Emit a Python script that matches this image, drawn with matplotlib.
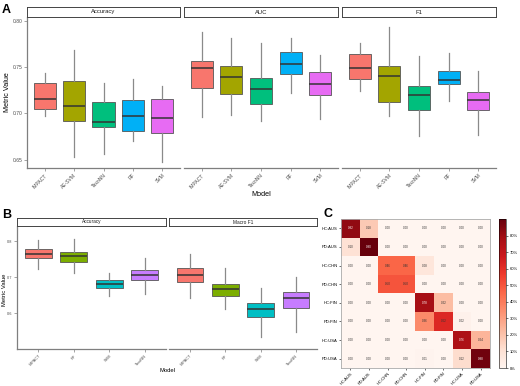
import numpy as np
import matplotlib
matplotlib.use('Agg')
import matplotlib.pyplot as plt

plt.rcParams['font.family'] = ['Liberation Sans', 'DejaVu Sans']

# ---- panel A data (box stats: whislo, q1, med, q3, whishi)
models_a = ["IMPACT", "AE-SVM", "TaxoNN", "RF", "SVM"]
colors_a = ["#F8766D", "#A3A500", "#00BF7D", "#00B0F6", "#E76BF3"]
acc_a = [[0.697, 0.705, 0.716, 0.7325, 0.744],
         [0.653, 0.692, 0.708, 0.735, 0.768],
         [0.6565, 0.6855, 0.691, 0.712, 0.733],
         [0.670, 0.6805, 0.697, 0.7146, 0.737],
         [0.6475, 0.6787, 0.6952, 0.7153, 0.7297]]
auc_a = [[0.696, 0.7272, 0.7494, 0.757, 0.788],
         [0.6985, 0.721, 0.739, 0.7516, 0.781],
         [0.692, 0.7103, 0.7264, 0.7386, 0.7756],
         [0.7218, 0.7422, 0.7534, 0.7666, 0.7817],
         [0.6938, 0.720, 0.7315, 0.7444, 0.763]]
f1_a = [[0.7243, 0.7372, 0.7487, 0.7638, 0.7763],
        [0.6967, 0.7121, 0.7408, 0.7512, 0.7935],
        [0.6751, 0.7035, 0.720, 0.729, 0.762],
        [0.7128, 0.7315, 0.7361, 0.7455, 0.7648],
        [0.6766, 0.7035, 0.7146, 0.7232, 0.7462]]

# ---- panel B data
models_b = ["IMPACT", "RF", "SVM", "TaxoNN"]
colors_b = ["#F8766D", "#7CAE00", "#00BFC4", "#C77CFF"]
acc_b = [[0.723, 0.752, 0.765, 0.777, 0.803],
         [0.712, 0.743, 0.758, 0.770, 0.806],
         [0.647, 0.671, 0.682, 0.692, 0.710],
         [0.654, 0.692, 0.706, 0.719, 0.754]]
mf1_b = [[0.641, 0.686, 0.706, 0.725, 0.763],
         [0.612, 0.648, 0.667, 0.680, 0.725],
         [0.534, 0.589, 0.612, 0.629, 0.669],
         [0.548, 0.615, 0.642, 0.659, 0.699]]

# ---- panel C data
classes = ["HC:AUS", "PD:AUS", "HC:CHN", "PD:CHN", "HC:FIN", "PD:FIN", "HC:USA", "PD:USA"]
conf = np.array([
    [0.82, 0.18, 0.00, 0.00, 0.00, 0.00, 0.00, 0.00],
    [0.10, 0.90, 0.00, 0.00, 0.00, 0.00, 0.00, 0.00],
    [0.00, 0.00, 0.46, 0.46, 0.08, 0.00, 0.00, 0.00],
    [0.00, 0.00, 0.50, 0.50, 0.00, 0.00, 0.00, 0.00],
    [0.00, 0.00, 0.00, 0.00, 0.78, 0.22, 0.00, 0.00],
    [0.00, 0.00, 0.00, 0.00, 0.36, 0.62, 0.02, 0.00],
    [0.00, 0.00, 0.00, 0.00, 0.00, 0.00, 0.76, 0.24],
    [0.00, 0.00, 0.00, 0.00, 0.01, 0.00, 0.12, 0.88]])

W, H = 520, 386
fig = plt.figure(figsize=(W / 100, H / 100), dpi=100)


def px_axes(x0, y0, x1, y1):
    return fig.add_axes([x0 / W, 1 - y1 / H, (x1 - x0) / W, (y1 - y0) / H])


def facet(x0, y0, x1, y1, strip_h, title, stats, models, colors, ylim, yticks,
          show_y, tick_fs, strip_fs):
    ax = px_axes(x0, y0, x1, y1)
    st = [dict(whislo=s[0], q1=s[1], med=s[2], q3=s[3], whishi=s[4], fliers=[])
          for s in stats]
    bp = ax.bxp(st, positions=np.arange(1, len(models) + 1), widths=0.75,
                patch_artist=True, showcaps=False,
                boxprops=dict(edgecolor='#555555', linewidth=0.6),
                whiskerprops=dict(color='#8a8a8a', linewidth=0.9),
                medianprops=dict(color='#333333', linewidth=1.1))
    for b, c in zip(bp['boxes'], colors):
        b.set_facecolor(c)
    ax.set_xlim(0.4, len(models) + 0.6)
    ax.set_ylim(*ylim)
    ax.set_xticks(np.arange(1, len(models) + 1))
    ax.set_xticklabels(models, rotation=45, ha='right', rotation_mode='anchor',
                       fontsize=tick_fs, color='#4d4d4d')
    for s in ['top', 'right']:
        ax.spines[s].set_visible(False)
    ax.spines['bottom'].set_color('#7f7f7f')
    ax.spines['bottom'].set_linewidth(0.9)
    if show_y:
        ax.set_yticks(yticks)
        ax.set_yticklabels(["%g" % v if len(str(v)) < 4 else "%.2f" % v for v in yticks],
                           fontsize=tick_fs, color='#4d4d4d')
        ax.spines['left'].set_color('#7f7f7f')
        ax.spines['left'].set_linewidth(0.9)
    else:
        ax.set_yticks([])
        ax.spines['left'].set_visible(False)
    ax.tick_params(length=2, width=0.5, color='#7f7f7f', pad=1.5)
    sax = px_axes(x0, y0 - strip_h, x1, y0)
    sax.set_xticks([])
    sax.set_yticks([])
    for s in sax.spines.values():
        s.set_color('#444444')
        s.set_linewidth(0.7)
    sax.text(0.5, 0.5, title, ha='center', va='center', fontsize=strip_fs,
             color='#1a1a1a', transform=sax.transAxes)
    return ax


# panel A
ylim_a = (0.641, 0.804)
yt_a = [0.65, 0.70, 0.75, 0.80]
ax1 = facet(27, 17, 180, 168, 10, "Accuracy", acc_a, models_a, colors_a, ylim_a, yt_a, True, 3.6, 4.2)
facet(184, 17, 338, 168, 10, "AUC", auc_a, models_a, colors_a, ylim_a, yt_a, False, 3.6, 4.2)
facet(342, 17, 496, 168, 10, "F1", f1_a, models_a, colors_a, ylim_a, yt_a, False, 3.6, 4.2)
ax1.set_yticklabels(["0.65", "0.70", "0.75", "0.80"])
fig.text(8 / W, 1 - 92 / H, "Metric Value", rotation=90, ha='center', va='center', fontsize=5.2)
fig.text(261 / W, 1 - 194 / H, "Model", ha='center', va='center', fontsize=5.2)
fig.text(2 / W, 1 - 10 / H, "A", fontsize=9, fontweight='bold', va='center')

# panel B
ylim_b = (0.5, 0.842)
yt_b = [0.6, 0.7, 0.8]
facet(17, 226, 166, 349, 8, "Accuracy", acc_b, models_b, colors_b, ylim_b, yt_b, True, 2.8, 3.4)
facet(169, 226, 317, 349, 8, "Macro F1", mf1_b, models_b, colors_b, ylim_b, yt_b, False, 2.8, 3.4)
fig.text(5 / W, 1 - 290 / H, "Metric Value", rotation=90, ha='center', va='center', fontsize=4.2)
fig.text(167 / W, 1 - 370 / H, "Model", ha='center', va='center', fontsize=4.2)
fig.text(2 / W, 1 - 215 / H, "B", fontsize=9, fontweight='bold', va='center')

# panel C
axc = px_axes(341, 219, 490, 368)
im = axc.imshow(conf, cmap='Reds', vmin=0, vmax=conf.max(), aspect='auto')
for i in range(len(classes)):
    for j in range(len(classes)):
        v = conf[i, j]
        axc.text(j, i, "%.2f" % v, ha='center', va='center', fontsize=2.2,
                 color='white' if v > 0.7 else '#333333')
axc.set_xticks(range(len(classes)))
axc.set_yticks(range(len(classes)))
axc.set_xticklabels(classes, rotation=45, ha='right', rotation_mode='anchor', fontsize=3)
axc.set_yticklabels(classes, fontsize=3)
axc.tick_params(length=1.5, width=0.4, pad=1)
for s in axc.spines.values():
    s.set_color('#aaaaaa')
    s.set_linewidth(0.6)
cax = px_axes(499, 219, 506, 368)
cb = fig.colorbar(im, cax=cax)
cb.set_ticks([0, 0.1, 0.2, 0.3, 0.4, 0.5, 0.6, 0.7, 0.8])
cb.set_ticklabels(["%d%%" % p for p in range(0, 90, 10)])
cb.ax.tick_params(labelsize=3, length=1.5, width=0.4, pad=1.5)
cb.outline.set_linewidth(0.4)
fig.text(324 / W, 1 - 214 / H, "C", fontsize=9, fontweight='bold', va='center')

fig.savefig("out.png", dpi=100)
